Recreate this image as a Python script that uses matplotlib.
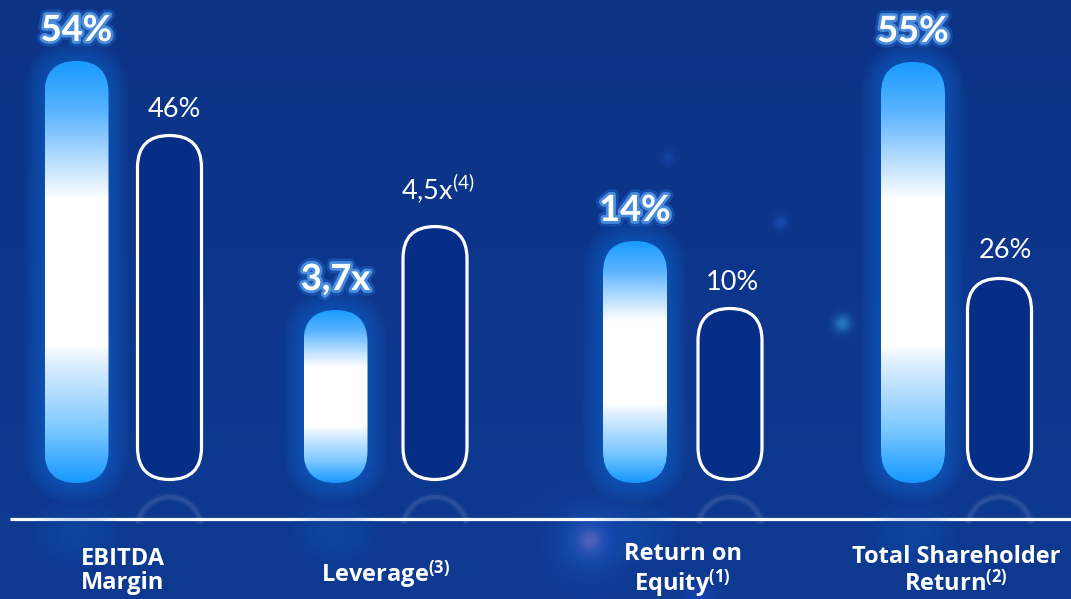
import numpy as np
import matplotlib
matplotlib.use("Agg")
import matplotlib.pyplot as plt
from matplotlib.patches import FancyBboxPatch, Arc, Ellipse
from matplotlib.transforms import IdentityTransform
import matplotlib.patheffects as pe

# ---------------- data ----------------
categories = ["EBITDA\nMargin", "Leverage$^{\\mathbf{(3)}}$",
              "Return on\nEquity$^{\\mathbf{(1)}}$",
              "Total Shareholder\nReturn$^{\\mathbf{(2)}}$"]
highlight_values = [54, 3.7, 14, 55]
compare_values = [46, 4.5, 10, 26]
highlight_labels = ["54%", "3,7x", "14%", "55%"]
compare_labels = ["46%", "4,5x$^{(4)}$", "10%", "26%"]

# ---------------- style / layout ----------------
plt.rcParams["font.family"] = ["Lato", "DejaVu Sans"]
plt.rcParams["mathtext.fontset"] = "custom"
plt.rcParams["mathtext.rm"] = "Lato"
plt.rcParams["mathtext.bf"] = "Open Sans:bold"
plt.rcParams["mathtext.it"] = "Lato:italic"

W, H = 1071, 599
BASE_PX = 483          # bar base (pixels from top)
TOP_PX = 61            # axis top (pixels from top)
pair_centers = [(76.5, 169.5), (335.5, 435), (635, 730), (913, 999.5)]
ylims = [(7.75, 54.0), (2.072, 6.044), (-0.667, 24.91), (-1.79, 55.13)]
BAR_W = 64
cmp_offsets = [17, 26, 17, 19]
cmp_dx = [5, 3, 2, 6]
cat_offsets = [-88, -92, -88, -88]

BG_TOP = np.array([12, 51, 134]) / 255
BG_BOT = np.array([14, 58, 146]) / 255
CMP_FACE = "#062e87"
GLOW = "#1e78e6"

fig = plt.figure(figsize=(W / 100, H / 100), dpi=100)

# background with soft bokeh lights
bg = fig.add_axes([0, 0, 1, 1], zorder=-5)
bg.set_xlim(0, W)
bg.set_ylim(H, 0)
bg.axis("off")
yy, xx = np.mgrid[0:H, 0:W]
img = BG_TOP[None, None, :] + (BG_BOT - BG_TOP)[None, None, :] * (yy / H)[:, :, None]
for (bx, by, s, col, a) in [(842, 323, 6, (60, 170, 230), 0.55), (780, 222, 5, (40, 100, 220), 0.45),
                            (588, 540, 22, (40, 110, 230), 0.45), (590, 540, 8, (140, 110, 190), 0.5),
                            (668, 157, 5, (40, 100, 220), 0.3), (700, 598, 10, (30, 80, 220), 0.4)]:
    g = a * np.exp(-((xx - bx) ** 2 + (yy - by) ** 2) / (2 * s ** 2))
    img = img * (1 - g[:, :, None]) + (np.array(col) / 255)[None, None, :] * g[:, :, None]
bg.imshow(np.clip(img, 0, 1), extent=(0, W, H, 0), aspect="auto", zorder=0)

# baseline
bg.plot([10, W], [519, 519], color="white", lw=2.3, zorder=3, solid_capstyle="butt")


def pill(x0, y0, w, h, **kw):
    return FancyBboxPatch((x0, y0), w, h,
                          boxstyle=f"round,pad=0,rounding_size={w / 2}",
                          transform=IdentityTransform(), **kw)


# gradient for highlighted bars (top -> bottom)
stops = [(0.0, (24, 155, 255)), (0.12, (90, 180, 255)), (0.28, (220, 238, 255)),
         (0.33, (255, 255, 255)), (0.67, (255, 255, 255)), (0.72, (220, 238, 255)),
         (0.88, (120, 198, 255)), (1.0, (22, 152, 255))]
ts = np.linspace(0, 1, 400)
sp_t = [s[0] for s in stops]
bar_grad = np.stack([np.interp(ts, sp_t, [s[1][c] for s in stops]) for c in range(3)], axis=1) / 255
bar_grad = bar_grad[:, None, :]

text_glow = [pe.Stroke(linewidth=8, foreground="#2a78e0", alpha=0.35),
             pe.Stroke(linewidth=4, foreground="#6db8ff", alpha=0.6),
             pe.Normal()]

for i in range(len(categories)):
    c0, c1 = pair_centers[i]
    sp = c1 - c0
    left = c0 - 0.5 * sp
    ax = fig.add_axes([left / W, (H - BASE_PX) / H, 2 * sp / W, (BASE_PX - TOP_PX) / H])
    ax.patch.set_alpha(0)
    ax.axis("off")
    lo, hi = ylims[i]
    ax.set_xlim(-0.5, 1.5)
    ax.set_ylim(lo, hi)

    half_w_data = (BAR_W / 2) / sp

    # highlighted bar
    v = highlight_values[i]
    xd, yd = ax.transData.transform((0, v))
    yb = ax.transData.transform((0, lo))[1]
    x0 = xd - BAR_W / 2
    h = yd - yb
    for d in np.arange(20, 0, -2):
        ax.add_patch(pill(x0 - d, yb - d, BAR_W + 2 * d, h + 2 * d,
                          facecolor=GLOW, alpha=0.05, edgecolor="none",
                          clip_on=False, zorder=1))
    clip = pill(x0, yb, BAR_W, h, facecolor="none", edgecolor="none")
    im = ax.imshow(bar_grad, extent=(-half_w_data, half_w_data, lo, v),
                   aspect="auto", origin="upper", zorder=2)
    im.set_clip_path(clip)
    # soft reflection blob under the baseline
    for k in range(14):
        f = 1 - k / 14
        ax.add_patch(Ellipse((xd, yb - 50), BAR_W * 1.5 * f, 70 * f, transform=IdentityTransform(),
                             facecolor="#1f6fe0", alpha=0.025, edgecolor="none",
                             clip_on=False, zorder=1))
    ax.annotate(highlight_labels[i], xy=(0, v), xytext=(0, 20), textcoords="offset pixels",
                ha="center", va="baseline", fontsize=26, fontweight="bold", color="white",
                path_effects=text_glow, annotation_clip=False, zorder=5)

    # comparison bar
    v2 = compare_values[i]
    xd2, yd2 = ax.transData.transform((1, v2))
    yb2 = yb + 3.5
    ax.add_patch(pill(xd2 - BAR_W / 2, yb2, BAR_W, (yd2 - 1.5) - yb2,
                      facecolor=CMP_FACE, edgecolor="white", lw=2.3,
                      clip_on=False, zorder=2))
    # reflection arc
    for lw_, a_ in [(6, 0.04), (3, 0.08)]:
        ax.add_patch(Arc((xd2, yb - 14 - BAR_W / 2), BAR_W, BAR_W, theta1=10, theta2=170,
                         transform=IdentityTransform(), color="white", alpha=a_, lw=lw_,
                         clip_on=False, zorder=1))
    ax.annotate(compare_labels[i], xy=(1, v2), xytext=(cmp_dx[i], cmp_offsets[i]),
                textcoords="offset pixels", ha="center", va="baseline",
                fontsize=19.5, color="white", annotation_clip=False, zorder=5)

    # category label
    ax.annotate(categories[i], xy=(0.5, lo), xytext=(0, cat_offsets[i]),
                textcoords="offset pixels", ha="center", va="center",
                fontsize=17, fontweight="bold", color="white", linespacing=1.05,
                family=["Open Sans", "DejaVu Sans"],
                annotation_clip=False, zorder=5)

fig.savefig("out.png", dpi=100)
